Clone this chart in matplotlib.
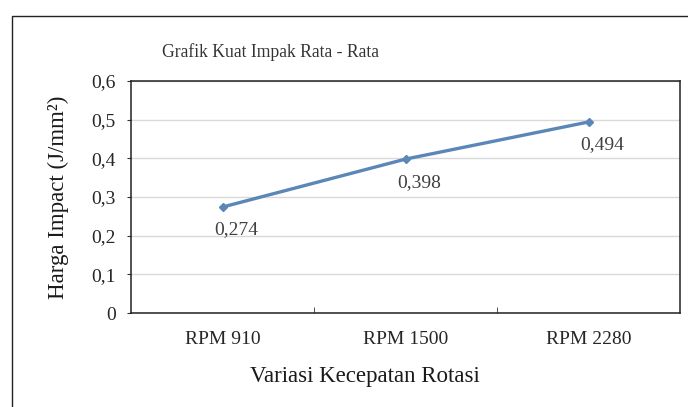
import matplotlib
matplotlib.use("Agg")
import matplotlib.pyplot as plt
from matplotlib.patches import Rectangle
from matplotlib.ticker import FixedLocator

categories = ["RPM 910", "RPM 1500", "RPM 2280"]
values = [0.274, 0.398, 0.494]
value_labels = ["0,274", "0,398", "0,494"]
y_ticks = [0, 0.1, 0.2, 0.3, 0.4, 0.5, 0.6]
y_tick_labels = ["0", "0,1", "0,2", "0,3", "0,4", "0,5", "0,6"]

plt.rcParams['font.family'] = ['Liberation Serif', 'DejaVu Serif']

fig = plt.figure(figsize=(6.88, 4.07), dpi=100)
fig.patch.set_facecolor("white")

# outer chart border
fig.add_artist(Rectangle((12/688, -0.05), 1.2, 1 - 16/407 + 0.05,
                         transform=fig.transFigure, fill=False,
                         edgecolor="#222222", linewidth=1.0))

ax = fig.add_axes([131/688, 1 - 313/407, (680 - 131)/688, (313 - 81)/407])
x = list(range(len(categories)))
ax.plot(x, values, color="#5A87B8", linewidth=2.4, marker="D", markersize=4.5,
        markerfacecolor="#5A87B8", markeredgecolor="#5A87B8", zorder=3)

for xi, v, lab in zip(x, values, value_labels):
    ax.annotate(lab, (xi, v), textcoords="offset pixels", xytext=(14, -23),
                ha="center", va="center", fontsize=14, color="#404040")

ax.set_xlim(-0.5, len(categories) - 0.5)
ax.set_ylim(0, 0.6)
ax.yaxis.set_major_locator(FixedLocator(y_ticks))
ax.set_yticklabels(y_tick_labels)
ax.set_xticks(x)
ax.set_xticklabels(categories)
ax.set_xticks([i + 0.5 for i in range(len(categories) - 1)], minor=True)
ax.tick_params(axis="x", which="major", length=0, pad=13, labelsize=14, labelcolor="#262626")
ax.tick_params(axis="x", which="minor", direction="in", length=4, color="#333333")
ax.tick_params(axis="y", which="major", direction="out", length=3, pad=8,
               labelsize=14, labelcolor="#262626", color="#333333")

ax.grid(axis="y", color="#d9d9d9", linewidth=1.0)
ax.set_axisbelow(True)
for s in ax.spines.values():
    s.set_color("#222222")
    s.set_linewidth(1.1)

ax.set_ylabel("Harga Impact (J/mm²)", fontsize=16.5, color="#1a1a1a")
ax.set_xlabel("Variasi Kecepatan Rotasi", fontsize=16.5, color="#1a1a1a")
ax.yaxis.set_label_coords(-0.133, 0.5)
ax.xaxis.set_label_coords(0.426, -0.272)
ax.yaxis.label.set_va("center")
ax.xaxis.label.set_va("center")
fig.text(271/688, 1 - 52/407, "Grafik Kuat Impak Rata - Rata", ha="center", va="center",
         fontsize=12.7, color="#333333")

fig.savefig("out.png", dpi=100)
